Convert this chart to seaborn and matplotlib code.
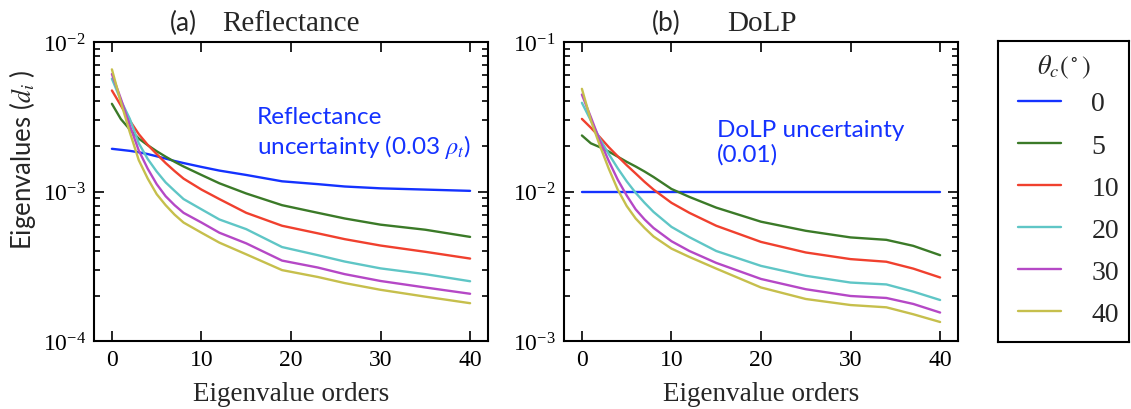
import numpy as np
import pandas as pd
import matplotlib
matplotlib.use("Agg")
import matplotlib.pyplot as plt
import seaborn as sns
from matplotlib.ticker import LogLocator, FuncFormatter, NullFormatter, MultipleLocator
from matplotlib.lines import Line2D

# ---------------- data ----------------
theta_labels = ["0", "5", "10", "20", "30", "40"]

# (a) Reflectance
x_refl = [0, 1, 2, 3, 4, 5, 6, 7, 8, 10, 12, 15, 19, 23, 26, 30, 35, 40]
refl_0 = [1.93e-3, 1.90e-3, 1.87e-3, 1.83e-3, 1.78e-3, 1.72e-3, 1.66e-3, 1.60e-3, 1.55e-3, 1.46e-3, 1.38e-3, 1.29e-3, 1.17e-3, 1.12e-3, 1.08e-3, 1.05e-3, 1.03e-3, 1.01e-3]
refl_5 = [3.86e-3, 3.05e-3, 2.60e-3, 2.26e-3, 2.04e-3, 1.86e-3, 1.71e-3, 1.58e-3, 1.47e-3, 1.29e-3, 1.135e-3, 9.7e-4, 8.1e-4, 7.2e-4, 6.6e-4, 6.0e-4, 5.55e-4, 4.97e-4]
refl_10 = [4.74e-3, 3.76e-3, 2.98e-3, 2.42e-3, 2.05e-3, 1.78e-3, 1.55e-3, 1.37e-3, 1.22e-3, 1.03e-3, 8.9e-4, 7.2e-4, 5.9e-4, 5.25e-4, 4.8e-4, 4.35e-4, 3.95e-4, 3.56e-4]
refl_20 = [5.68e-3, 4.07e-3, 3.06e-3, 2.10e-3, 1.65e-3, 1.36e-3, 1.15e-3, 1.01e-3, 8.9e-4, 7.6e-4, 6.5e-4, 5.6e-4, 4.25e-4, 3.75e-4, 3.4e-4, 3.06e-4, 2.8e-4, 2.51e-4]
refl_30 = [6.10e-3, 4.17e-3, 2.76e-3, 1.88e-3, 1.42e-3, 1.12e-3, 9.3e-4, 8.1e-4, 7.2e-4, 6.2e-4, 5.3e-4, 4.5e-4, 3.45e-4, 3.1e-4, 2.8e-4, 2.52e-4, 2.28e-4, 2.07e-4]
refl_40 = [6.56e-3, 3.96e-3, 2.49e-3, 1.62e-3, 1.22e-3, 9.6e-4, 8.1e-4, 7.0e-4, 6.2e-4, 5.3e-4, 4.55e-4, 3.8e-4, 2.98e-4, 2.68e-4, 2.44e-4, 2.2e-4, 1.98e-4, 1.79e-4]

# (b) DoLP
x_dolp = [0, 1, 2, 3, 4, 5, 6, 7, 8, 10, 12, 15, 20, 25, 30, 34, 37, 40]
dolp_0 = [1e-2] * 18
dolp_5 = [2.37e-2, 2.10e-2, 1.98e-2, 1.85e-2, 1.71e-2, 1.58e-2, 1.47e-2, 1.36e-2, 1.25e-2, 1.04e-2, 9.2e-3, 7.8e-3, 6.28e-3, 5.46e-3, 4.93e-3, 4.75e-3, 4.33e-3, 3.75e-3]
dolp_10 = [3.06e-2, 2.67e-2, 2.31e-2, 1.98e-2, 1.72e-2, 1.50e-2, 1.32e-2, 1.16e-2, 1.03e-2, 8.4e-3, 7.2e-3, 5.9e-3, 4.6e-3, 3.91e-3, 3.53e-3, 3.39e-3, 3.05e-3, 2.66e-3]
dolp_20 = [3.92e-2, 2.98e-2, 2.25e-2, 1.78e-2, 1.43e-2, 1.17e-2, 9.8e-3, 8.4e-3, 7.3e-3, 5.8e-3, 4.95e-3, 4.0e-3, 3.18e-3, 2.73e-3, 2.46e-3, 2.39e-3, 2.14e-3, 1.88e-3]
dolp_30 = [4.45e-2, 3.14e-2, 2.19e-2, 1.60e-2, 1.20e-2, 9.4e-3, 7.6e-3, 6.5e-3, 5.7e-3, 4.65e-3, 4.0e-3, 3.33e-3, 2.6e-3, 2.22e-3, 2.0e-3, 1.94e-3, 1.77e-3, 1.55e-3]
dolp_40 = [4.86e-2, 2.99e-2, 2.03e-2, 1.42e-2, 1.03e-2, 8.0e-3, 6.6e-3, 5.7e-3, 5.0e-3, 4.15e-3, 3.65e-3, 3.05e-3, 2.28e-3, 1.91e-3, 1.74e-3, 1.68e-3, 1.51e-3, 1.34e-3]

colors = ["#1432ff", "#3b7a28", "#f0402e", "#5fc6c6", "#b548c6", "#c6bf4c"]


def long_frame(xs, series):
    rows = []
    for lab, vals in zip(theta_labels, series):
        for x, v in zip(xs, vals):
            rows.append({"order": x, "value": v, "theta": lab})
    return pd.DataFrame(rows)


df_a = long_frame(x_refl, [refl_0, refl_5, refl_10, refl_20, refl_30, refl_40])
df_b = long_frame(x_dolp, [dolp_0, dolp_5, dolp_10, dolp_20, dolp_30, dolp_40])

# ---------------- style ----------------
sns.set_theme(style="ticks")
plt.rcParams["font.family"] = ["Liberation Serif", "DejaVu Serif"]
plt.rcParams["mathtext.fontset"] = "stix"
plt.rcParams["mathtext.default"] = "it"

SANS = ["Lato", "DejaVu Sans"]

fig = plt.figure(figsize=(11.31, 4.10), dpi=100)
W, H = 1131, 410
ax_a = fig.add_axes([94 / W, 1 - 342 / H, (488 - 94) / W, (342 - 43) / H])
ax_b = fig.add_axes([564 / W, 1 - 342 / H, (958 - 564) / W, (342 - 43) / H])

pow_fmt = FuncFormatter(lambda v, p: r"$\mathregular{10^{%d}}$" % int(round(np.log10(v))))

for ax, df, ylim in [(ax_a, df_a, (1e-4, 1e-2)), (ax_b, df_b, (1e-3, 1e-1))]:
    sns.lineplot(data=df, x="order", y="value", hue="theta", hue_order=theta_labels,
                 palette=colors, ax=ax, legend=False, linewidth=1.7, estimator=None)
    ax.set_yscale("log")
    ax.set_ylim(*ylim)
    ax.set_xlim(-2, 42)
    ax.xaxis.set_major_locator(MultipleLocator(10))
    ax.yaxis.set_major_locator(LogLocator(base=10, numticks=10))
    ax.yaxis.set_minor_locator(LogLocator(base=10, subs=np.arange(2, 10), numticks=20))
    ax.yaxis.set_major_formatter(pow_fmt)
    ax.yaxis.set_minor_formatter(NullFormatter())
    ax.tick_params(which="both", direction="in", top=True, right=True, width=1.2,
                   labelsize=17, colors="black")
    ax.tick_params(which="major", length=7, pad=6)
    ax.tick_params(which="minor", length=4)
    for s in ax.spines.values():
        s.set_linewidth(1.5)
        s.set_color("black")
    ax.set_xlabel("Eigenvalue orders", fontsize=19.5, labelpad=8)
    ax.set_ylabel("")

# Titles
ax_a.text(0.193, 1.04, "(a)", transform=ax_a.transAxes, fontsize=19, family=SANS, va="baseline")
ax_a.text(0.325, 1.04, "Reflectance", transform=ax_a.transAxes, fontsize=21, va="baseline")
ax_b.text(0.2225, 1.04, "(b)", transform=ax_b.transAxes, fontsize=19, family=SANS, va="baseline")
ax_b.text(0.413, 1.04, "DoLP", transform=ax_b.transAxes, fontsize=21, va="baseline")

# y label
fig.text(22 / W, 1 - 160 / H, r"Eigenvalues ($d_i$ )", rotation=90, fontsize=18.5,
         family=SANS, ha="center", va="center")

# annotations
ax_a.text((257 - 94) / 394, (342 - 134) / 299, "Reflectance\nuncertainty (0.03 $\\rho_t$)",
          transform=ax_a.transAxes, color="#1432ff", fontsize=17.5, family=SANS,
          va="center", ha="left", linespacing=1.2)
ax_b.text((717 - 564) / 394, (342 - 143) / 299, "DoLP uncertainty\n(0.01)",
          transform=ax_b.transAxes, color="#1432ff", fontsize=17.5, family=SANS,
          va="center", ha="left", linespacing=1.2)

# legend box
ax_l = fig.add_axes([998 / W, 1 - 343 / H, (1129 - 998) / W, (343 - 42) / H])
ax_l.set_xticks([])
ax_l.set_yticks([])
for s in ax_l.spines.values():
    s.set_linewidth(1.5)
    s.set_color("black")
ax_l.text(0.5, 1 - (67 - 42) / 301, r"$\theta_c(^\circ)$", transform=ax_l.transAxes,
          fontsize=19, ha="center", va="center")
handles = [Line2D([0], [0], color=c, lw=1.7) for c in colors]
leg = ax_l.legend(handles, theta_labels, loc="upper left",
                  bbox_to_anchor=((1017.7 - 998) / 131, 1 - (92 - 42) / 301),
                  frameon=False, fontsize=20, borderpad=0, borderaxespad=0,
                  handlelength=1.55, handletextpad=1.1, labelspacing=0.6)

fig.savefig("out.png", dpi=100)
